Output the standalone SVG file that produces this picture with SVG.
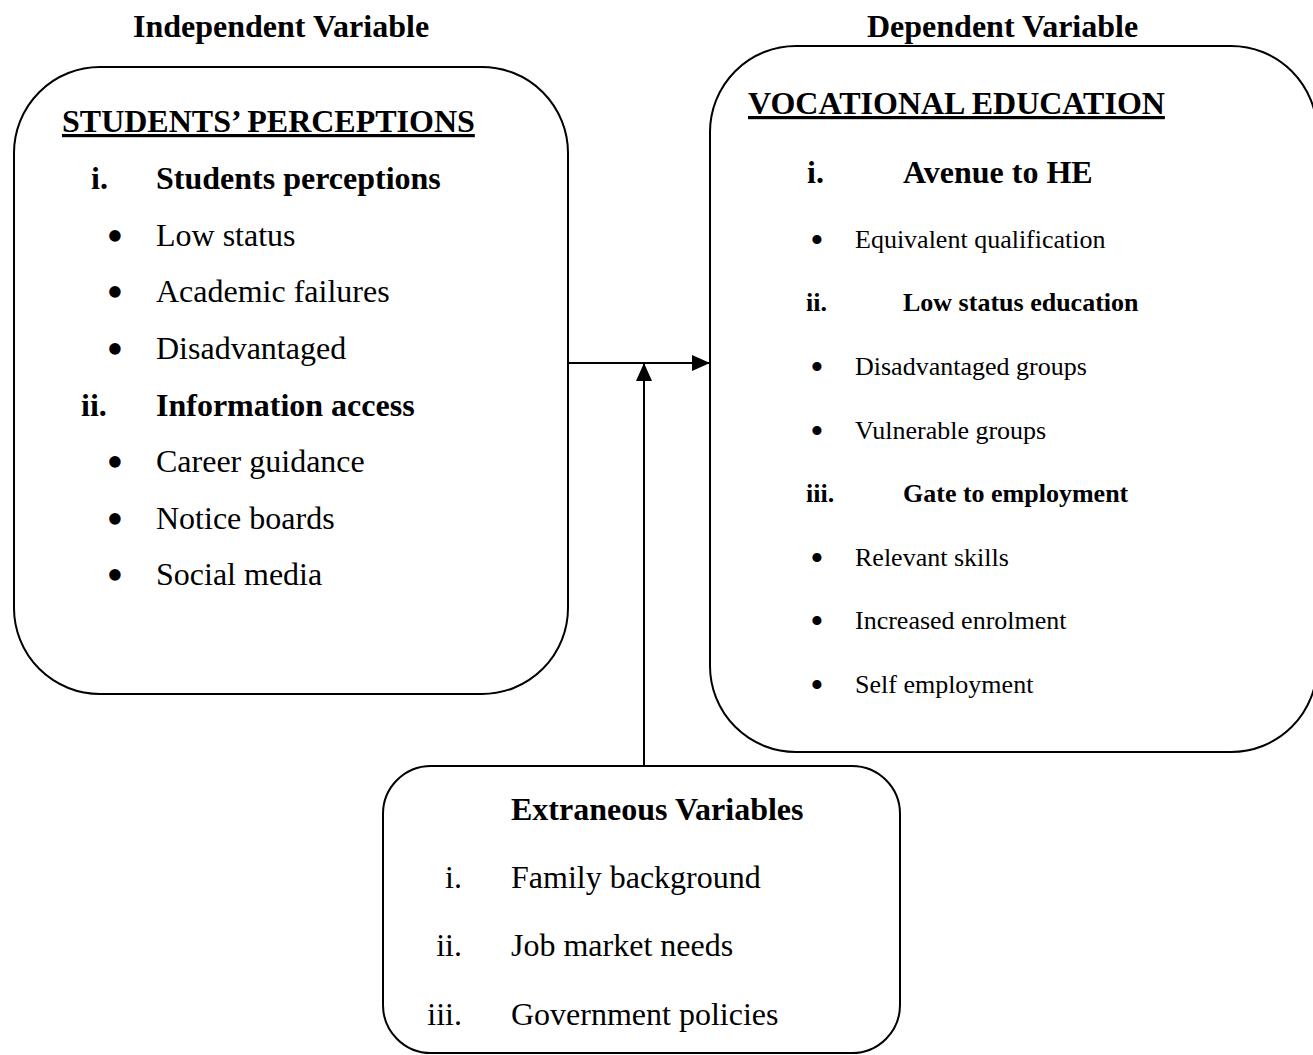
<svg xmlns="http://www.w3.org/2000/svg" width="1313" height="1055" viewBox="0 0 1313 1055">
  <style>
    text { font-family: "Liberation Serif", "Times New Roman", serif; fill: #000; }
    .big { font-size: 32px; }
    .small { font-size: 26px; }
    .b { font-weight: bold; }
    .u { text-decoration: underline; }
    .dot { font-size: 48px; text-anchor: middle; }
    .dot-s { font-size: 38px; text-anchor: middle; }
    .box { fill: #fff; stroke: #000; stroke-width: 2; }
    .link { fill: none; stroke: #000; stroke-width: 2; }
  </style>
  <defs>
    <marker id="arrow" markerUnits="userSpaceOnUse" markerWidth="18" markerHeight="16" refX="18" refY="8" orient="auto">
      <path d="M0,0 L18,8 L0,16 Z" fill="#000"/>
    </marker>
  </defs>

  <rect width="1313" height="1055" fill="#fff"/>

  <!-- column headings -->
  <text class="big b" x="133" y="37">Independent Variable</text>
  <text class="big b" x="867" y="37">Dependent Variable</text>

  <!-- independent variable node -->
  <g id="students-perceptions">
    <rect class="box" x="14" y="67" width="554" height="627" rx="86" ry="86"/>
    <text class="big b u" x="62" y="132">STUDENTS’ PERCEPTIONS</text>
    <text class="big b" x="91" y="189">i.</text>
    <text class="big b" x="156" y="189">Students perceptions</text>
    <text class="dot" x="115" y="252">•</text>
    <text class="big" x="156" y="246">Low status</text>
    <text class="dot" x="115" y="308">•</text>
    <text class="big" x="156" y="302">Academic failures</text>
    <text class="dot" x="115" y="365">•</text>
    <text class="big" x="156" y="359">Disadvantaged</text>
    <text class="big b" x="81" y="416">ii.</text>
    <text class="big b" x="156" y="416">Information access</text>
    <text class="dot" x="115" y="478">•</text>
    <text class="big" x="156" y="472">Career guidance</text>
    <text class="dot" x="115" y="535">•</text>
    <text class="big" x="156" y="529">Notice boards</text>
    <text class="dot" x="115" y="591">•</text>
    <text class="big" x="156" y="585">Social media</text>
  </g>

  <!-- dependent variable node -->
  <g id="vocational-education">
    <rect class="box" x="710" y="46" width="607" height="706" rx="86" ry="86"/>
    <text class="big b u" x="748" y="114">VOCATIONAL EDUCATION</text>
    <text class="big b" x="807" y="183">i.</text>
    <text class="big b" x="903" y="183">Avenue to HE</text>
    <text class="dot-s" x="817" y="253">•</text>
    <text class="small" x="855" y="248">Equivalent qualification</text>
    <text class="small b" x="806" y="311">ii.</text>
    <text class="small b" x="903" y="311">Low status education</text>
    <text class="dot-s" x="817" y="380">•</text>
    <text class="small" x="855" y="375">Disadvantaged groups</text>
    <text class="dot-s" x="817" y="444">•</text>
    <text class="small" x="855" y="439">Vulnerable groups</text>
    <text class="small b" x="806" y="502">iii.</text>
    <text class="small b" x="903" y="502">Gate to employment</text>
    <text class="dot-s" x="817" y="571">•</text>
    <text class="small" x="855" y="566">Relevant skills</text>
    <text class="dot-s" x="817" y="634">•</text>
    <text class="small" x="855" y="629">Increased enrolment</text>
    <text class="dot-s" x="817" y="698">•</text>
    <text class="small" x="855" y="693">Self employment</text>
  </g>

  <!-- extraneous variables node -->
  <g id="extraneous-variables">
    <rect class="box" x="383" y="766" width="517" height="287" rx="48" ry="48"/>
    <text class="big b" x="511" y="820">Extraneous Variables</text>
    <text class="big" x="462" y="888" text-anchor="end">i.</text>
    <text class="big" x="511" y="888">Family background</text>
    <text class="big" x="462" y="956" text-anchor="end">ii.</text>
    <text class="big" x="511" y="956">Job market needs</text>
    <text class="big" x="462" y="1025" text-anchor="end">iii.</text>
    <text class="big" x="511" y="1025">Government policies</text>
  </g>

  <!-- connectors -->
  <g id="connectors">
    <line class="link" x1="568" y1="363" x2="710" y2="363" marker-end="url(#arrow)"/>
    <line class="link" x1="644" y1="766" x2="644" y2="363" marker-end="url(#arrow)"/>
  </g>
</svg>
